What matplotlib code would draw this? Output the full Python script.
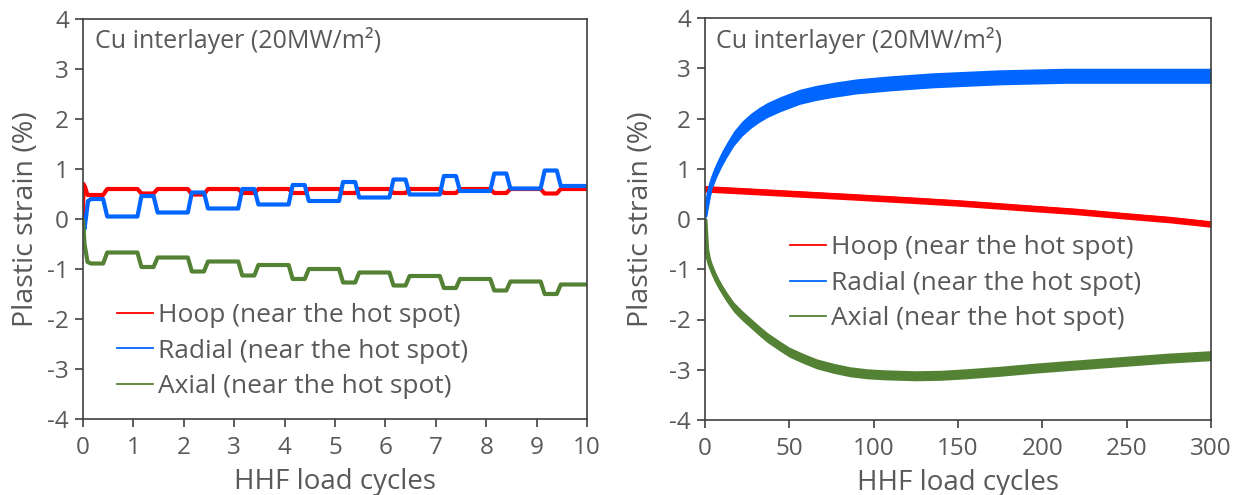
import matplotlib
matplotlib.use("Agg")
import matplotlib.pyplot as plt
from matplotlib.lines import Line2D
import numpy as np

plt.rcParams['font.family'] = ['Open Sans', 'DejaVu Sans']

# ---- data ----
# left panel: first 10 HHF cycles, plateau values per cycle
cycle_start = list(range(10))
hoop_heat = [0.48, 0.51, 0.49, 0.52, 0.52, 0.52, 0.52, 0.52, 0.52, 0.51]
hoop_cool = [0.60, 0.60, 0.60, 0.60, 0.60, 0.60, 0.60, 0.60, 0.60, 0.60]
radial_heat = [0.40, 0.46, 0.53, 0.60, 0.68, 0.74, 0.79, 0.86, 0.91, 0.97]
radial_cool = [0.05, 0.13, 0.21, 0.29, 0.36, 0.43, 0.49, 0.56, 0.61, 0.66]
axial_heat = [-0.89, -0.96, -1.05, -1.13, -1.20, -1.27, -1.33, -1.38, -1.43, -1.50]
axial_cool = [-0.67, -0.77, -0.85, -0.92, -1.00, -1.07, -1.14, -1.20, -1.25, -1.31]
# first loading transient (cycle, strain)
hoop_first = [(0.0, 0.0), (0.01, 0.70), (0.04, 0.64), (0.09, 0.48)]
radial_first = [(0.0, 0.0), (0.03, -0.20), (0.10, 0.36)]
axial_first = [(0.0, 0.0), (0.03, -0.50), (0.09, -0.86)]
# phase timing within a cycle (fraction of cycle)
heat_on, heat_off, cool_on, cool_off = 0.16, 0.40, 0.48, 1.08

# right panel: 300 cycles, band centre and band height
hoop_cyc = [0, 20, 50, 86, 120, 150, 193, 220, 250, 275, 300]
hoop_long = [0.60, 0.565, 0.51, 0.445, 0.38, 0.32, 0.215, 0.15, 0.06, -0.01, -0.10]
radial_cyc = [0, 1, 2, 3, 5, 7, 10, 13, 17, 22, 27, 32, 37, 45, 56, 66, 76, 90, 110,
              135, 155, 175, 214, 254, 300]
radial_long = [0.05, 0.25, 0.43, 0.60, 0.82, 0.99, 1.20, 1.38, 1.60, 1.80, 1.95, 2.07,
               2.17, 2.29, 2.43, 2.51, 2.57, 2.64, 2.70, 2.76, 2.79, 2.82, 2.85, 2.85, 2.85]
axial_cyc = [0, 1, 2, 3, 5, 7, 10, 13, 17, 22, 27, 32, 37, 44, 50, 58, 66, 76, 86, 96,
             106, 125, 140, 155, 175, 195, 214, 234, 254, 274, 300]
axial_long = [0.0, -0.60, -0.78, -0.90, -1.07, -1.22, -1.40, -1.56, -1.75, -1.92, -2.07,
              -2.22, -2.36, -2.52, -2.65, -2.77, -2.88, -2.97, -3.04, -3.08, -3.10, -3.12,
              -3.11, -3.08, -3.03, -2.97, -2.92, -2.87, -2.82, -2.77, -2.72]
hoop_band, radial_band, axial_band = 0.13, 0.30, 0.20

labels = ['Hoop (near the hot spot)', 'Radial (near the hot spot)', 'Axial (near the hot spot)']
colors = ['#ff0000', '#0066ff', '#548235']
grey = '#595959'


def step_series(first, heat, cool):
    xs = [p[0] for p in first]
    ys = [p[1] for p in first]
    for n, h, c in zip(cycle_start, heat, cool):
        if n > 0:
            xs.append(n + heat_on - 0.08)
            ys.append(cool[n - 1])
        xs += [n + heat_on, n + heat_off, n + cool_on, n + cool_off if n < 9 else 10]
        ys += [h, h, c, c]
    return xs, ys


fig = plt.figure(figsize=(12.43, 4.95), dpi=100)
ax1 = fig.add_axes([83 / 1243, 76 / 495, 504 / 1243, 400 / 495])
ax2 = fig.add_axes([705 / 1243, 75 / 495, 506 / 1243, 402 / 495])

series = [(hoop_first, hoop_heat, hoop_cool), (radial_first, radial_heat, radial_cool),
          (axial_first, axial_heat, axial_cool)]
for (first, heat, cool), col in zip(series, colors):
    xs, ys = step_series(first, heat, cool)
    ax1.plot(xs, ys, color=col, lw=3, solid_joinstyle='round', solid_capstyle='butt')

longs = [(hoop_cyc, hoop_long, hoop_band), (radial_cyc, radial_long, radial_band),
         (axial_cyc, axial_long, axial_band)]
for (cyc, centre, band), col in zip(longs, colors):
    c = np.array(centre)
    ax2.fill_between(cyc, c - band / 2, c + band / 2, color=col, lw=0)
    ax2.plot(cyc, c, color=col, lw=3.5, solid_capstyle='butt')

for ax, xmax, step in [(ax1, 10, 1), (ax2, 300, 50)]:
    ax.set_xlim(0, xmax)
    ax.set_ylim(-4, 4)
    ax.set_xticks(np.arange(0, xmax + 1, step))
    ax.set_yticks(range(-4, 5))
    ax.set_yticklabels([str(v) for v in range(-4, 5)])
    for s in ax.spines.values():
        s.set_color('#404040')
        s.set_linewidth(1.2)
    ax.tick_params(direction='out', length=6, width=1.2, color='#404040',
                   labelsize=17.5, labelcolor=grey, pad=4)
    ax.tick_params(axis='x', pad=6)
    ax.set_xlabel('HHF load cycles', fontsize=20, color=grey)
    ax.set_ylabel('Plastic strain (%)', fontsize=20.5, color=grey)

ax1.text(0.024, 0.9475, 'Cu interlayer (20MW/m²)', transform=ax1.transAxes,
         fontsize=18, color=grey, va='center', ha='left')
ax2.text(0.022, 0.943, 'Cu interlayer (20MW/m²)', transform=ax2.transAxes,
         fontsize=18, color=grey, va='center', ha='left')

ax1.xaxis.set_label_coords(0.5, -0.122)
ax2.xaxis.set_label_coords(0.5, -0.122)
ax1.yaxis.set_label_coords(-0.085, 0.5)
ax2.yaxis.set_label_coords(-0.099, 0.5)

handles = [Line2D([], [], color=c, lw=1.3) for c in colors]
leg_kw = dict(frameon=False, fontsize=19, labelcolor=grey, handlelength=1.36,
              handletextpad=0.19, labelspacing=0.4, loc='center left',
              borderpad=0, borderaxespad=0)
ax1.legend(handles, labels, bbox_to_anchor=(0.067, 0.17), **leg_kw)
ax2.legend(handles, labels, bbox_to_anchor=(0.168, 0.34), **leg_kw)

fig.savefig('out.png', dpi=100)
